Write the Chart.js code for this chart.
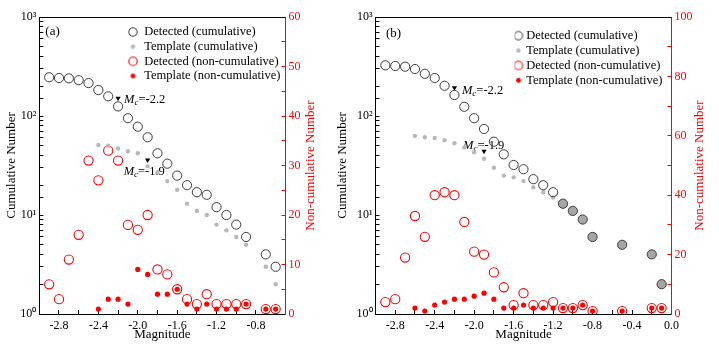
<!DOCTYPE html>
<html>
<head>
<meta charset="utf-8">
<script src="https://cdn.jsdelivr.net/npm/chart.js@4.4.1/dist/chart.umd.min.js"></script>
<style>
  html, body { margin: 0; padding: 0; background: #fff; }
  #wrap { position: relative; width: 719px; height: 349px; overflow: hidden; }
  .panel { position: absolute; top: 0; }
  #panel-a { left: 0; }
  #panel-b { left: 330px; }
</style>
</head>
<body>
<div id="wrap">
  <div class="panel" id="panel-a"><canvas id="chart-a" width="330" height="349"></canvas></div>
  <div class="panel" id="panel-b"><canvas id="chart-b" width="389" height="349"></canvas></div>
</div>
<script>
// ---- panel (a) data ----
const magA = [-2.9, -2.8, -2.7, -2.6, -2.5, -2.4, -2.3, -2.2, -2.1, -2.0, -1.9, -1.8,
              -1.7, -1.6, -1.5, -1.4, -1.3, -1.2, -1.1, -1.0, -0.9, -0.7, -0.6];
const detCumA = [246, 242, 240, 230, 215, 183, 158, 125, 95, 78, 61, 42,
                 33, 25, 20, 17, 16, 12, 10, 8, 6, 4, 3];
const tplCumA = [null, null, null, null, null, 51, 50, 47, 44, 42, 31, 27,
                 22, 18, 13, 11, 10, 8, 7, 6, 5, 3, 2];
const detNonA = [6, 3, 11, 16, 31, 27, 33, 31, 18, 17, 20, 9,
                 8, 5, 3, 2, 4, 2, 2, 2, 2, 1, 1];
const tplNonA = [null, null, null, null, null, 1, 3, 3, 2, 9, 8, 4,
                 4, 5, 2, 1, 2, 1, 1, 1, 2, 1, 1];
const mcMagA = [-2.2, -1.9];
const mcLevelA = [151, 36];
const mcTextA = ['-2.2', '-1.9'];

// ---- panel (b) data ----
const magB = [-2.9, -2.8, -2.7, -2.6, -2.5, -2.4, -2.3, -2.2, -2.1, -2.0, -1.9, -1.8,
              -1.7, -1.6, -1.5, -1.4, -1.3, -1.2, -1.1, -1.0, -0.9, -0.8, -0.5, -0.2, -0.1];
const detCumB = [325, 320, 315, 298, 267, 242, 202, 163, 124, 95, 74, 55,
                 41, 32, 29, 23, 20, 17, 13, 11, 9, 6, 5, 4, 2];
const tplCumB = [null, null, null, 63, 61, 60, 57, 53, 48, 43, 37, 30,
                 25, 24, 22, 19, 17, 15, 13, 11, 9, 6, 5, 4, 2];
const detNonB = [4, 5, 19, 33, 26, 40, 41, 40, 31, 21, 20, 14,
                 9, 3, 7, 3, 3, 4, 2, 2, 3, 1, 1, 2, 2];
const tplNonB = [null, null, null, 2, 1, 3, 4, 5, 5, 6, 7, 5,
                 2, 2, 3, 2, 2, 2, 2, 2, 3, 1, 1, 2, 2];
const mcMagB = [-2.2, -1.9];
const mcLevelB = [193, 44];
const mcTextB = ['-2.2', '-1.9'];

const SERIF = "'Liberation Serif', 'Times New Roman', serif";
const RED = '#ff0000';
const DARK = '#3c3c3c';
const SUP = ['\u2070', '\u00b9', '\u00b2', '\u00b3'];

Chart.defaults.font.family = SERIF;
Chart.defaults.color = '#000';

function pairs(xs, ys) {
    return xs.map((x, i) => ({ x: x, y: ys[i] })).filter(p => p.y !== null && p.y !== undefined);
}

// small canvas used as legend symbol
function marker(r, fill, stroke, lw) {
    const s = Math.ceil(2 * r + (lw || 0) + 2);
    const c = document.createElement('canvas');
    c.width = s; c.height = s;
    const g = c.getContext('2d');
    g.beginPath();
    g.arc(s / 2, s / 2, r, 0, Math.PI * 2);
    if (fill) { g.fillStyle = fill; g.fill(); }
    if (stroke) { g.lineWidth = lw; g.strokeStyle = stroke; g.stroke(); }
    return c;
}

function logLabel(v) {
    const e = Math.log10(v);
    if (Math.abs(e - Math.round(e)) > 1e-6) return '';
    return '10' + SUP[Math.round(e)];
}

function magLabel(v) {
    const k = (v + 2.8) / 0.4;
    if (v < -2.81 || Math.abs(k - Math.round(k)) > 1e-6) return '';
    return Math.abs(v) < 1e-9 ? '0.0' : v.toFixed(1);
}

// moves the chartArea legend to its spot inside the frame
const legendSpot = {
    id: 'legendSpot',
    afterLayout(chart, args, opts) {
        const lg = chart.legend;
        if (!lg) return;
        const w = lg.width, h = lg.height;
        lg.left = chart.chartArea.left + opts.dx;
        lg.top = chart.chartArea.top + opts.dy;
        lg.right = lg.left + w;
        lg.bottom = lg.top + h;
    }
};

// frame top, panel letter, Mc notes, right axis title
const decor = {
    id: 'decor',
    beforeDatasetsDraw(chart, args, opts) {
        const { ctx, chartArea, scales } = chart;
        ctx.save();
        ctx.strokeStyle = '#000';
        ctx.lineWidth = 1;
        ctx.beginPath();
        ctx.moveTo(chartArea.left, Math.round(chartArea.top) + 0.5);
        ctx.lineTo(chartArea.right, Math.round(chartArea.top) + 0.5);
        ctx.stroke();

        ctx.fillStyle = '#000';
        ctx.textBaseline = 'middle';
        ctx.textAlign = 'left';
        ctx.font = '13px ' + SERIF;
        ctx.fillText(opts.letter, chartArea.left + opts.letterDx, chartArea.top + opts.letterDy);

        opts.mc.forEach((m, i) => {
            const px = scales.x.getPixelForValue(m.x) + opts.mcPos[i].dx;
            const py = scales.y.getPixelForValue(m.y) + opts.mcPos[i].dy;
            ctx.font = 'italic 12.5px ' + SERIF;
            ctx.fillText('M', px, py);
            let cx = px + ctx.measureText('M').width;
            ctx.font = 'italic 9px ' + SERIF;
            ctx.fillText('c', cx, py + 3);
            cx += ctx.measureText('c').width;
            ctx.font = '12.5px ' + SERIF;
            ctx.fillText('=' + opts.mcText[i], cx, py);
        });

        ctx.translate(opts.titleX, (chartArea.top + chartArea.bottom) / 2);
        ctx.rotate(-Math.PI / 2);
        ctx.textAlign = 'center';
        ctx.fillStyle = RED;
        ctx.font = '13px ' + SERIF;
        ctx.fillText('Non-cumulative Number', 0, 0);
        ctx.restore();
    }
};

function makePanel(cfg) {
    const detCum = pairs(cfg.mags, cfg.detCum);
    const tplCum = pairs(cfg.mags, cfg.tplCum);
    const detNon = pairs(cfg.mags, cfg.detNon);
    const tplNon = pairs(cfg.mags, cfg.tplNon);
    const mc = pairs(cfg.mcMag, cfg.mcLevel);

    // template point sitting exactly on a detected one
    const sameAsDet = c => {
        const p = c.raw;
        if (!p) return false;
        const d = detCum.find(q => Math.abs(q.x - p.x) < 1e-6);
        return !!d && d.y === p.y;
    };

    return new Chart(document.getElementById(cfg.canvas), {
        type: 'scatter',
        data: {
            datasets: [
                {
                    label: 'Detected (cumulative)', data: detCum, yAxisID: 'y',
                    pointRadius: 4.6, pointBorderWidth: 1, pointBorderColor: DARK,
                    pointBackgroundColor: 'rgba(0,0,0,0)',
                    legendMarker: marker(4.2, null, DARK, 1)
                },
                {
                    label: 'Template (cumulative)', data: tplCum, yAxisID: 'y',
                    pointRadius: c => sameAsDet(c) ? 4.6 : 2.2, pointBorderWidth: 0,
                    pointBackgroundColor: c => sameAsDet(c) ? '#a6a6a6' : '#b8b8b8',
                    legendMarker: marker(2.2, '#b8b8b8')
                },
                {
                    label: 'Detected (non-cumulative)', data: detNon, yAxisID: 'y2',
                    pointRadius: 4.6, pointBorderWidth: 1.1, pointBorderColor: RED,
                    pointBackgroundColor: 'rgba(0,0,0,0)',
                    legendMarker: marker(4.2, null, RED, 1.1)
                },
                {
                    label: 'Template (non-cumulative)', data: tplNon, yAxisID: 'y2',
                    pointRadius: 2.6, pointBorderWidth: 0, pointBackgroundColor: RED,
                    legendMarker: marker(2.4, RED)
                },
                {
                    data: mc, yAxisID: 'y', pointStyle: 'triangle', pointRotation: 180,
                    pointRadius: 3, pointBorderWidth: 0, pointBackgroundColor: '#000'
                }
            ]
        },
        options: {
            responsive: false,
            animation: false,
            events: [],
            layout: { padding: { top: 17, left: 0, right: 0, bottom: 0 } },
            scales: {
                x: {
                    type: 'linear', position: 'bottom', min: cfg.xMin, max: cfg.xMax,
                    ticks: {
                        stepSize: 0.2, autoSkip: false, maxRotation: 0, minRotation: 0,
                        padding: 9, font: { size: 12 }, color: '#000', callback: magLabel
                    },
                    grid: { drawOnChartArea: false, tickLength: -4, color: '#000' },
                    border: { color: '#000', width: 1 },
                    title: { display: true, text: 'Magnitude', font: { size: 13 }, padding: { top: 0, bottom: 6.2 } },
                    afterFit: s => { s.height = 35; }
                },
                y: {
                    type: 'logarithmic', position: 'left', min: 1, max: 1000,
                    ticks: { autoSkip: false, padding: 7, font: { size: 12 }, color: '#000', callback: logLabel },
                    grid: { drawOnChartArea: false, tickLength: -4, color: '#000' },
                    border: { color: '#000', width: 1 },
                    title: { display: true, text: 'Cumulative Number', font: { size: 13 }, padding: { top: cfg.leftTitlePad, bottom: 0 } },
                    afterFit: s => { s.width = cfg.leftWidth; }
                },
                y2: {
                    type: 'linear', position: 'right', min: 0, max: cfg.rightMax,
                    ticks: {
                        stepSize: cfg.rightMinor, autoSkip: false, padding: 7,
                        font: { size: 12 }, color: RED,
                        callback: v => (Math.round(v) % cfg.rightMajor === 0 ? String(Math.round(v)) : '')
                    },
                    grid: { drawOnChartArea: false, tickLength: -4, color: RED },
                    border: { color: RED, width: 1 },
                    afterFit: s => { s.width = cfg.rightWidth; }
                }
            },
            plugins: {
                tooltip: { enabled: false },
                legend: {
                    position: 'chartArea',
                    align: 'start',
                    labels: {
                        usePointStyle: true,
                        boxWidth: cfg.legendBox,
                        boxHeight: 6,
                        padding: cfg.legendPad,
                        color: '#000',
                        font: { size: 12.5 },
                        generateLabels: chart => chart.data.datasets
                            .map((ds, i) => ({
                                text: ds.label, datasetIndex: i, hidden: false,
                                pointStyle: ds.legendMarker,
                                fillStyle: 'rgba(0,0,0,0)', strokeStyle: 'rgba(0,0,0,0)',
                                lineWidth: 0, fontColor: '#000'
                            }))
                            .filter(it => it.text)
                    }
                },
                legendSpot: { dx: cfg.legendDx, dy: cfg.legendDy },
                decor: {
                    letter: cfg.letter, letterDx: cfg.letterDx, letterDy: cfg.letterDy,
                    mc: mc, mcText: cfg.mcText, mcPos: cfg.mcPos, titleX: cfg.rightTitleX
                }
            }
        },
        plugins: [legendSpot, decor]
    });
}

makePanel({
    canvas: 'chart-a', letter: '(a)',
    mags: magA, detCum: detCumA, tplCum: tplCumA, detNon: detNonA, tplNon: tplNonA,
    mcMag: mcMagA, mcLevel: mcLevelA, mcText: mcTextA,
    mcPos: [{ dx: 6, dy: 1.5 }, { dx: -24, dy: 12 }],
    xMin: -3.0, xMax: -0.5, rightMax: 60, rightMinor: 5, rightMajor: 10,
    leftWidth: 39.3, rightWidth: 44.5, leftTitlePad: 4.2, rightTitleX: 311,
    legendBox: 10, legendPad: 2.2, legendDx: 86.5, legendDy: 6.5,
    letterDx: 6, letterDy: 15
});

makePanel({
    canvas: 'chart-b', letter: '(b)',
    mags: magB, detCum: detCumB, tplCum: tplCumB, detNon: detNonB, tplNon: tplNonB,
    mcMag: mcMagB, mcLevel: mcLevelB, mcText: mcTextB,
    mcPos: [{ dx: 7.5, dy: 2.5 }, { dx: -21, dy: -6 }],
    xMin: -3.0, xMax: 0.0, rightMax: 100, rightMinor: 10, rightMajor: 20,
    leftWidth: 45.5, rightWidth: 47.5, leftTitlePad: 5.2, rightTitleX: 370,
    legendBox: 3, legendPad: 2.4, legendDx: 139, legendDy: 10,
    letterDx: 10.5, letterDy: 17
});
</script>
</body>
</html>
